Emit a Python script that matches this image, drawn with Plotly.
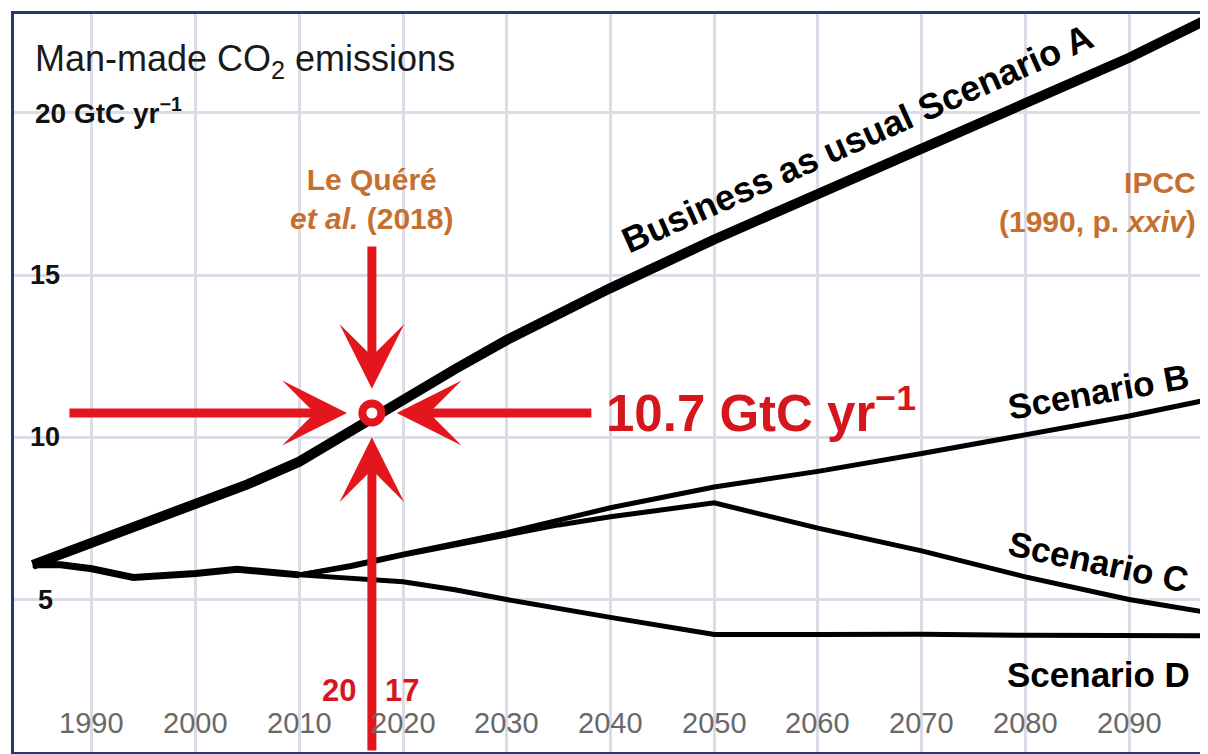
import plotly.graph_objects as go

# ---------------- data ----------------
years_a = [1984.3, 1990, 1995, 2000, 2005, 2010, 2017, 2020, 2025, 2030, 2040, 2050, 2060, 2070, 2080, 2090, 2097.6]
scen_a = [6.07, 6.75, 7.3, 7.9, 8.55, 9.25, 10.6, 11.2, 12.1, 13.0, 14.6, 16.1, 17.5, 18.9, 20.3, 21.7, 22.9]

base_years = [1984.3, 1987, 1990, 1994, 2000, 2004, 2008, 2010]
base_vals = [6.07, 6.07, 5.95, 5.68, 5.8, 5.93, 5.82, 5.76]

years_b = [2010, 2015, 2020, 2025, 2030, 2035, 2040, 2050, 2060, 2070, 2080, 2090, 2097.6]
scen_b = [5.76, 6.05, 6.4, 6.72, 7.06, 7.45, 7.83, 8.47, 8.95, 9.5, 10.08, 10.66, 11.16]

years_c = [2010, 2015, 2020, 2025, 2030, 2035, 2040, 2050, 2060, 2070, 2080, 2090, 2097.6]
scen_c = [5.76, 6.02, 6.37, 6.68, 7.0, 7.3, 7.55, 7.98, 7.2, 6.5, 5.7, 5.0, 4.6]

years_d = [2010, 2015, 2020, 2025, 2030, 2040, 2050, 2060, 2070, 2080, 2090, 2097.6]
scen_d = [5.76, 5.65, 5.55, 5.3, 5.0, 4.45, 3.92, 3.92, 3.93, 3.9, 3.88, 3.88]

point_year = [2017]
point_value = [10.75]

x_tick_vals = [1990, 2000, 2010, 2020, 2030, 2040, 2050, 2060, 2070, 2080, 2090]
x_tick_text = ["1990", "2000", "2010", "2020", "2030", "2040", "2050", "2060", "2070", "2080", "2090"]
y_tick_vals = [5, 10, 15]
y_tick_text = ["5", "10", "15"]

# ---------------- styles ----------------
RED = "#e3161e"
RED_TXT = "#d5161d"
ORANGE = "#c6702f"
NAVY = "#27386d"
GRID = "#dcdce6"
FONT = "Liberation Sans, Arial, sans-serif"

XR = [1982.5, 2097.6]
YR = [0.3, 23.05]

fig = go.Figure()

fig.add_trace(go.Scatter(x=base_years, y=base_vals, mode="lines",
                         line=dict(color="black", width=7), hoverinfo="skip"))
for xs, ys in [(years_b, scen_b), (years_c, scen_c), (years_d, scen_d)]:
    fig.add_trace(go.Scatter(x=xs, y=ys, mode="lines",
                             line=dict(color="black", width=5), hoverinfo="skip"))
fig.add_trace(go.Scatter(x=years_a, y=scen_a, mode="lines",
                         line=dict(color="black", width=10), hoverinfo="skip"))

annotations = []

# red arrows pointing at the 2017 value
px, py = point_year[0], point_value[0]
arrow_specs = [
    # (tail x, tail y, tip x, tip y)
    (1987.7, py, 2014.6, py),
    (2038.3, py, 2019.4, py),
    (px, 15.93, px, 11.5),
    (px, 0.3, px, 10.0),
]
for ax_, ay_, x_, y_ in arrow_specs:
    annotations.append(dict(x=x_, y=y_, ax=ax_, ay=ay_, xref="x", yref="y",
                            axref="x", ayref="y", text="", showarrow=True,
                            arrowhead=3, arrowsize=1.2, arrowwidth=9,
                            arrowcolor=RED, standoff=0))

fig.add_trace(go.Scatter(x=point_year, y=point_value, mode="markers",
                         marker=dict(symbol="circle", size=19, color="white",
                                     line=dict(color=RED, width=8)),
                         hoverinfo="skip"))

# tick labels
for v, t in zip(x_tick_vals, x_tick_text):
    annotations.append(dict(x=v, y=1.2, xref="x", yref="y", text=t, showarrow=False,
                            font=dict(family=FONT, size=29, color="#686868"),
                            xanchor="center", yanchor="middle"))
for v, t in zip(y_tick_vals, y_tick_text):
    annotations.append(dict(x=1985.5, y=v, xref="x", yref="y", text="<b>" + t + "</b>",
                            showarrow=False,
                            font=dict(family=FONT, size=27, color="#111111"),
                            xanchor="center", yanchor="middle"))
annotations.append(dict(x=1984.3, y=20.06, xref="x", yref="y",
                        text="<b>20 GtC yr<sup>−1</sup></b>", showarrow=False,
                        font=dict(family=FONT, size=28, color="#111111"),
                        xanchor="left", yanchor="middle"))
annotations.append(dict(x=1984.3, y=21.6, xref="x", yref="y",
                        text="Man-made CO<sub>2</sub> emissions", showarrow=False,
                        font=dict(family=FONT, size=36, color="#1a1a1a"),
                        xanchor="left", yanchor="middle"))

# source labels
annotations.append(dict(x=2017, y=17.35, xref="x", yref="y",
                        text="<b>Le Quéré<br><i>et al.</i> (2018)</b>", showarrow=False,
                        font=dict(family=FONT, size=30, color=ORANGE),
                        xanchor="center", yanchor="middle", align="center"))
annotations.append(dict(x=2096.6, y=17.26, xref="x", yref="y",
                        text="<b>IPCC<br>(1990, p. <i>xxiv</i>)</b>", showarrow=False,
                        font=dict(family=FONT, size=30, color=ORANGE),
                        xanchor="right", yanchor="middle", align="right"))

# value label
annotations.append(dict(x=2039.4, y=10.85, xref="x", yref="y",
                        text="<b>10.7 GtC yr<sup>−1</sup></b>", showarrow=False,
                        font=dict(family=FONT, size=51, color=RED_TXT),
                        xanchor="left", yanchor="middle"))
annotations.append(dict(x=2015.7, y=2.2, xref="x", yref="y", text="<b>20</b>",
                        showarrow=False, font=dict(family=FONT, size=31, color=RED_TXT),
                        xanchor="right", yanchor="middle"))
annotations.append(dict(x=2018.1, y=2.2, xref="x", yref="y", text="<b>17</b>",
                        showarrow=False, font=dict(family=FONT, size=31, color=RED_TXT),
                        xanchor="left", yanchor="middle"))

# scenario labels
annotations.append(dict(x=2063.8, y=19.2, xref="x", yref="y",
                        text="<b>Business as usual Scenario A</b>", showarrow=False,
                        font=dict(family=FONT, size=36, color="black"),
                        textangle=-24, xanchor="center", yanchor="middle"))
annotations.append(dict(x=2087.0, y=11.4, xref="x", yref="y",
                        text="<b>Scenario B</b>", showarrow=False,
                        font=dict(family=FONT, size=35, color="black"),
                        textangle=-10, xanchor="center", yanchor="middle"))
annotations.append(dict(x=2087.0, y=6.16, xref="x", yref="y",
                        text="<b>Scenario C</b>", showarrow=False,
                        font=dict(family=FONT, size=35, color="black"),
                        textangle=12, xanchor="center", yanchor="middle"))
annotations.append(dict(x=2087.0, y=2.68, xref="x", yref="y",
                        text="<b>Scenario D</b>", showarrow=False,
                        font=dict(family=FONT, size=35, color="black"),
                        xanchor="center", yanchor="middle"))

# the page body adds an 8 px margin, so the figure is 8 px smaller on each axis
fig.update_layout(
    width=1200, height=746,
    margin=dict(l=6, r=0, t=6, b=2),
    paper_bgcolor="white", plot_bgcolor="white",
    showlegend=False,
    annotations=annotations,
    xaxis=dict(range=XR, tick0=1990, dtick=10, showgrid=True, gridcolor=GRID, gridwidth=3,
               showticklabels=False, ticks="", zeroline=False,
               showline=True, linecolor=NAVY, linewidth=3, mirror=True, fixedrange=True),
    yaxis=dict(range=YR, tick0=0, dtick=5, showgrid=True, gridcolor=GRID, gridwidth=3,
               showticklabels=False, ticks="", zeroline=False,
               showline=True, linecolor=NAVY, linewidth=3, mirror=False, fixedrange=True),
)

fig.write_html("out.html")
